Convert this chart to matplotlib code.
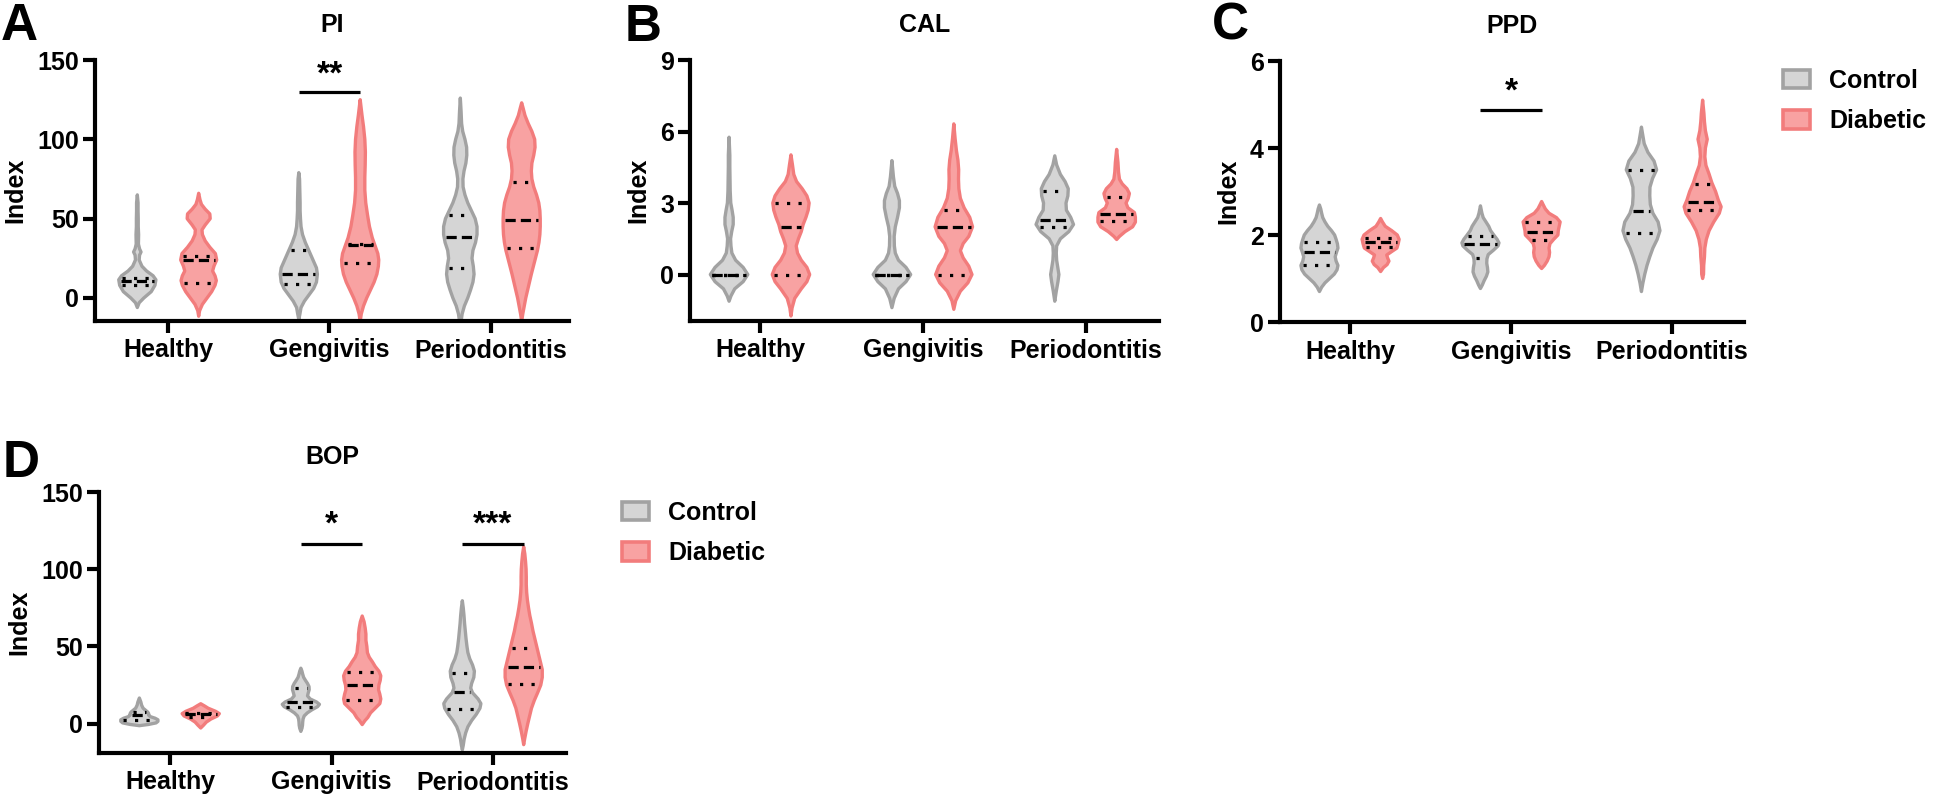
import numpy as np
import matplotlib
matplotlib.use("Agg")
import matplotlib.pyplot as plt
from matplotlib.patches import Patch

plt.rcParams["font.family"] = ["Liberation Sans", "DejaVu Sans"]
plt.rcParams["font.weight"] = "bold"

GROUPS = ["Healthy", "Gengivitis", "Periodontitis"]
SERIES = ["Control", "Diabetic"]

# ── violin outlines: (value, relative half-width) ───────────────────────────
# PI
PI_CTRL_HEALTHY = [(-6, 0), (-3, .1), (0, .35), (4, .75), (8, .95), (11.5, 1), (14, .85),
                   (17, .5), (20, .25), (24, .1), (27, .12), (29, .2), (31, .12), (34, .06),
                   (40, .07), (45, .05), (50, .05), (55, .04), (60, .04), (65, 0)]
PI_DIAB_HEALTHY = [(-11.5, 0), (-8, .05), (-4, .2), (0, .45), (4, .7), (8, .88), (11, .95),
                   (14, .88), (17, .75), (20, .82), (24, .97), (28, .9), (32, .6), (36, .35),
                   (40, .2), (43, .18), (46, .35), (50, .62), (53, .6), (56, .35), (59, .15),
                   (62, .07), (66, 0)]
PI_CTRL_GENG = [(-13.6, 0), (-10, .06), (-6, .12), (-2, .3), (2, .55), (6, .8), (10, .95),
                (15, 1), (19, .95), (23, .8), (27, .65), (31, .5), (35, .35), (40, .2),
                (45, .12), (50, .09), (55, .07), (60, .07), (65, .06), (70, .05), (75, .04),
                (79, 0)]
PI_DIAB_GENG = [(-14.7, 0), (-10, .06), (-5, .18), (0, .35), (5, .55), (10, .75), (15, .9),
                (20, .98), (24, 1), (28, .95), (33, .8), (38, .65), (45, .5), (52, .4),
                (60, .3), (68, .25), (76, .25), (84, .27), (92, .28), (100, .25), (108, .18),
                (115, .1), (120, .05), (125, 0)]
PI_CTRL_PERIO = [(-16, 0), (-14, .05), (-10, .1), (-5, .22), (0, .4), (5, .55), (10, .68),
                 (15, .74), (20, .7), (25, .63), (30, .68), (35, .82), (40, .9), (45, .9),
                 (50, .8), (55, .6), (60, .4), (65, .25), (70, .15), (75, .14), (80, .2),
                 (85, .3), (90, .35), (95, .34), (100, .25), (105, .13), (110, .07),
                 (118, .04), (126, 0)]
PI_DIAB_PERIO = [(-14.7, 0), (-10, .06), (-5, .14), (0, .22), (5, .32), (10, .42), (15, .52),
                 (20, .63), (25, .74), (30, .85), (35, .93), (40, .98), (45, 1), (50, 1),
                 (55, .98), (60, .92), (65, .8), (70, .65), (75, .55), (80, .52), (85, .55),
                 (90, .65), (95, .72), (100, .7), (105, .55), (110, .35), (115, .18),
                 (120, .07), (123, 0)]
# quartiles (Q1, median, Q3) per group
PI_CTRL_Q = [(8, 11, 12.5), (9, 15.3, 30), (19, 38.4, 52)]
PI_DIAB_Q = [(9.4, 23.7, 26.2), (22, 33.6, 34), (31.5, 49.3, 73.4)]

# CAL
CAL_CTRL_HEALTHY = [(-1.12, 0), (-.9, .1), (-.6, .3), (-.3, .75), (0, 1), (.3, .75), (.6, .35),
                    (.9, .15), (1.2, .1), (1.5, .08), (1.8, .14), (2.1, .22), (2.4, .22),
                    (2.7, .16), (3.0, .09), (3.5, .06), (4, .05), (4.5, .04), (5, .04),
                    (5.76, 0)]
CAL_DIAB_HEALTHY = [(-1.74, 0), (-1.4, .06), (-1, .2), (-.6, .55), (-.3, .85), (0, 1),
                    (.3, .85), (.6, .55), (.9, .35), (1.2, .28), (1.5, .4), (1.8, .55),
                    (2.1, .65), (2.4, .8), (2.7, .92), (3, .97), (3.3, .85), (3.6, .6),
                    (3.9, .3), (4.2, .15), (4.6, .08), (5.02, 0)]
CAL_CTRL_GENG = [(-1.39, 0), (-1, .12), (-.6, .35), (-.3, .75), (0, 1), (.3, .75), (.6, .35),
                 (.9, .18), (1.2, .13), (1.6, .12), (2, .18), (2.4, .3), (2.8, .4), (3.1, .4),
                 (3.4, .3), (3.7, .15), (4.1, .08), (4.78, 0)]
CAL_DIAB_GENG = [(-1.46, 0), (-1.1, .1), (-.7, .35), (-.35, .75), (0, .97), (.35, .8),
                 (.7, .5), (1, .35), (1.3, .5), (1.6, .8), (2, 1), (2.4, .85), (2.8, .55),
                 (3.2, .35), (3.6, .27), (4, .25), (4.4, .26), (4.8, .22), (5.2, .14),
                 (5.7, .07), (6.32, 0)]
CAL_CTRL_PERIO = [(-1.12, 0), (-.7, .08), (-.3, .17), (0, .22), (.3, .16), (.6, .1), (.9, .08),
                  (1.2, .1), (1.5, .3), (1.8, .75), (2.1, 1), (2.4, .85), (2.7, .62), (3, .6),
                  (3.3, .7), (3.6, .72), (3.9, .55), (4.2, .3), (4.6, .1), (4.98, 0)]
CAL_DIAB_PERIO = [(1.47, 0), (1.6, .15), (1.8, .45), (2, .85), (2.2, 1), (2.4, 1), (2.6, .95),
                  (2.8, .6), (3, .5), (3.2, .62), (3.4, .68), (3.6, .55), (3.8, .3), (4, .15),
                  (4.3, .1), (4.7, .07), (5.25, 0)]
CAL_CTRL_Q = [(0, 0, 0), (0, 0, 0), (2.0, 2.3, 3.5)]
CAL_DIAB_Q = [(0, 2, 3), (0, 2, 2.7), (2.24, 2.52, 3.24)]

# PPD
PPD_CTRL_HEALTHY = [(.7, 0), (.8, .12), (.9, .3), (1, .55), (1.1, .8), (1.2, .95), (1.3, 1),
                    (1.4, .9), (1.5, .85), (1.6, .92), (1.7, 1), (1.8, .97), (1.9, .9),
                    (2, .82), (2.1, .65), (2.2, .45), (2.3, .3), (2.4, .18), (2.5, .12),
                    (2.6, .07), (2.69, 0)]
PPD_DIAB_HEALTHY = [(1.16, 0), (1.25, .15), (1.32, .35), (1.4, .45), (1.47, .38), (1.54, .33),
                    (1.62, .6), (1.7, .88), (1.8, .95), (1.9, 1), (2, .9), (2.1, .6), (2.2, .25),
                    (2.3, .1), (2.38, 0)]
PPD_CTRL_GENG = [(.77, 0), (.85, .1), (.95, .2), (1.05, .32), (1.15, .4), (1.25, .38),
                 (1.35, .34), (1.45, .35), (1.55, .42), (1.65, .7), (1.75, .95), (1.82, 1),
                 (1.9, .9), (2, .72), (2.1, .55), (2.2, .45), (2.3, .3), (2.4, .15), (2.5, .08),
                 (2.67, 0)]
PPD_DIAB_GENG = [(1.23, 0), (1.3, .15), (1.4, .3), (1.5, .4), (1.6, .43), (1.7, .4), (1.8, .45),
                 (1.9, .65), (2, .88), (2.1, .9), (2.2, .95), (2.3, 1), (2.4, .8), (2.5, .4),
                 (2.6, .2), (2.7, .08), (2.77, 0)]
PPD_CTRL_PERIO = [(.7, 0), (.9, .08), (1.1, .18), (1.3, .3), (1.5, .45), (1.7, .62), (1.9, .85),
                  (2.1, 1), (2.3, .9), (2.5, .62), (2.7, .48), (2.9, .45), (3.1, .46),
                  (3.3, .6), (3.5, .82), (3.7, .68), (3.9, .35), (4.1, .15), (4.3, .07),
                  (4.48, 0)]
PPD_DIAB_PERIO = [(1, 0), (1.1, .05), (1.3, .06), (1.5, .1), (1.7, .12), (1.9, .2), (2.1, .35),
                  (2.3, .6), (2.5, .9), (2.65, 1), (2.8, .85), (3, .7), (3.2, .5), (3.4, .35),
                  (3.6, .18), (3.8, .12), (4, .15), (4.2, .25), (4.4, .15), (4.6, .1),
                  (4.8, .07), (5.1, 0)]
PPD_CTRL_Q = [(1.3, 1.6, 1.85), (1.47, 1.8, 1.98), (2.05, 2.55, 3.5)]
PPD_DIAB_Q = [(1.72, 1.85, 1.93), (1.88, 2.07, 2.3), (2.58, 2.77, 3.18)]

# BOP
BOP_CTRL_HEALTHY = [(-1.3, 0), (-.5, .5), (.5, .9), (1.5, 1), (2.5, 1), (3.5, .85), (4.5, .6),
                    (5.5, .5), (6.5, .5), (7.5, .45), (8.5, .35), (10, .2), (12, .12), (14, .08),
                    (16.6, 0)]
BOP_DIAB_HEALTHY = [(-2.8, 0), (-1, .15), (1, .3), (3, .55), (5, .9), (6.5, 1), (8, .8),
                    (10, .4), (11.5, .2), (12.9, 0)]
BOP_CTRL_GENG = [(-5, 0), (-3, .06), (-1, .09), (1, .1), (3, .12), (5, .18), (7, .35), (9, .6),
                 (11, .9), (12.5, 1), (14, .85), (16, .5), (18, .36), (20, .4), (22, .45),
                 (24, .44), (26, .36), (28, .25), (30, .15), (32, .1), (34, .06), (35.9, 0)]
BOP_DIAB_GENG = [(-.6, 0), (2, .15), (4, .3), (7, .45), (10, .7), (13, .95), (16, 1), (19, .95),
                 (22, .88), (25, .9), (28, .97), (31, 1), (34, .9), (37, .7), (40, .55),
                 (43, .38), (46, .28), (50, .25), (54, .2), (58, .2), (62, .16), (66, .1),
                 (69.7, 0)]
BOP_CTRL_PERIO = [(-17, 0), (-14, .05), (-10, .1), (-6, .18), (-2, .3), (2, .5), (6, .75),
                  (10, .95), (13, 1), (16, .85), (20, .55), (23, .45), (26, .5), (30, .62),
                  (34, .65), (38, .55), (42, .4), (46, .3), (50, .25), (55, .2), (60, .16),
                  (65, .12), (70, .09), (75, .05), (79.6, 0)]
BOP_DIAB_PERIO = [(-13.6, 0), (-10, .05), (-5, .13), (0, .22), (5, .32), (10, .42), (15, .57),
                  (20, .75), (25, .92), (30, 1), (35, 1), (40, .9), (45, .8), (50, .7),
                  (55, .6), (60, .5), (65, .42), (70, .33), (75, .26), (80, .2), (85, .16),
                  (90, .14), (95, .14), (100, .13), (105, .1), (110, .06), (114.5, 0)]
BOP_CTRL_Q = [(2.5, 5.5, 7.5), (11, 14, 23), (9.5, 20.4, 32.7)]
BOP_DIAB_Q = [(4, 6, 6.8), (15.5, 24.8, 33.4), (25.8, 37, 48.9)]

# significance bars: (group index, bar value, star value, label)
PI_SIG = [(1, 129.8, 140.5, "**")]
CAL_SIG = []
PPD_SIG = [(1, 4.87, 5.29, "*")]
BOP_SIG = [(1, 116.2, 128.5, "*"), (2, 116.2, 128.5, "***")]

# ── style ────────────────────────────────────────────────────────────────────
FACE = {"Control": "#d5d5d5", "Diabetic": "#f8a2a2"}
EDGE = {"Control": "#a2a2a2", "Diabetic": "#f27c7c"}
OFFSET = 0.19
HALF_W = 0.115
FS = 18
W, H = 1949, 800

fig = plt.figure(figsize=(W / 100, H / 100), dpi=100)


def px_axes(left, right, top, bottom):
    return fig.add_axes([left / W, 1 - bottom / H, (right - left) / W, (bottom - top) / H])


def draw_violin(ax, x0, profile, quart, series):
    ys = np.array([p[0] for p in profile], dtype=float)
    ws = np.array([p[1] for p in profile], dtype=float) * HALF_W
    ax.fill(np.r_[x0 + ws, (x0 - ws)[::-1]], np.r_[ys, ys[::-1]],
            facecolor=FACE[series], edgecolor=EDGE[series], linewidth=2.4,
            joinstyle="round", zorder=2)
    q1, med, q3 = quart
    for v, ls in ((q1, (0, (1, 2.6))), (q3, (0, (1, 2.6))), (med, (0, (3.2, 1.6)))):
        hw = np.interp(v, ys, ws) - 0.012
        if hw > 0:
            ax.plot([x0 - hw, x0 + hw], [v, v], color="black", lw=2.3, ls=ls,
                    solid_capstyle="butt", dash_capstyle="butt", zorder=3)


def panel(ax, title, ctrl, diab, ctrl_q, diab_q, sig, ylim, yticks, xlim):
    for i in range(3):
        draw_violin(ax, i - OFFSET, ctrl[i], ctrl_q[i], "Control")
        draw_violin(ax, i + OFFSET, diab[i], diab_q[i], "Diabetic")
    for gi, ybar, ystar, lab in sig:
        ax.plot([gi - OFFSET, gi + OFFSET], [ybar, ybar], color="black", lw=2.3,
                solid_capstyle="butt", zorder=4)
        ax.text(gi, ystar, lab, ha="center", va="center", fontsize=24,
                fontweight="bold", zorder=4)
    ax.set_xlim(*xlim)
    ax.set_ylim(*ylim)
    ax.set_yticks(yticks)
    ax.set_xticks(range(3))
    ax.set_xticklabels(GROUPS)
    for s in ("top", "right"):
        ax.spines[s].set_visible(False)
    for s in ("left", "bottom"):
        ax.spines[s].set_linewidth(3)
        ax.spines[s].set_capstyle("projecting")
    ax.tick_params(axis="both", width=3, length=8.6, labelsize=FS, pad=3)
    ax.tick_params(axis="x", pad=4)
    ax.set_ylabel("Index", fontsize=FS, fontweight="bold", labelpad=7)
    ax.set_title(title, fontsize=FS, fontweight="bold", pad=20)
    ax.patch.set_visible(False)


ax_a = px_axes(95, 569, 60, 321)
panel(ax_a, "PI",
      [PI_CTRL_HEALTHY, PI_CTRL_GENG, PI_CTRL_PERIO],
      [PI_DIAB_HEALTHY, PI_DIAB_GENG, PI_DIAB_PERIO],
      PI_CTRL_Q, PI_DIAB_Q, PI_SIG, (-14.5, 150), [0, 50, 100, 150], (-0.452, 2.483))

ax_b = px_axes(690, 1159, 60, 321)
panel(ax_b, "CAL",
      [CAL_CTRL_HEALTHY, CAL_CTRL_GENG, CAL_CTRL_PERIO],
      [CAL_DIAB_HEALTHY, CAL_DIAB_GENG, CAL_DIAB_PERIO],
      CAL_CTRL_Q, CAL_DIAB_Q, CAL_SIG, (-1.95, 9), [0, 3, 6, 9], (-0.43, 2.45))

ax_c = px_axes(1280, 1744, 61, 322)
panel(ax_c, "PPD",
      [PPD_CTRL_HEALTHY, PPD_CTRL_GENG, PPD_CTRL_PERIO],
      [PPD_DIAB_HEALTHY, PPD_DIAB_GENG, PPD_DIAB_PERIO],
      PPD_CTRL_Q, PPD_DIAB_Q, PPD_SIG, (0, 6), [0, 2, 4, 6], (-0.435, 2.447))

ax_d = px_axes(99, 566, 492, 753)
panel(ax_d, "BOP",
      [BOP_CTRL_HEALTHY, BOP_CTRL_GENG, BOP_CTRL_PERIO],
      [BOP_DIAB_HEALTHY, BOP_DIAB_GENG, BOP_DIAB_PERIO],
      BOP_CTRL_Q, BOP_DIAB_Q, BOP_SIG, (-19, 150), [0, 50, 100, 150], (-0.44, 2.452))

# panel letters
for letter, x, y in (("A", 1, 40), ("B", 625, 41), ("C", 1212, 39), ("D", 3, 477)):
    fig.text(x / W, 1 - y / H, letter, fontsize=37, fontweight="bold",
             ha="left", va="baseline")

# legends (next to C and D)
handles = [Patch(facecolor=FACE[s], edgecolor=EDGE[s], linewidth=2.6, label=s) for s in SERIES]
for ax, x, y in ((ax_c, 1783, 101), (ax_d, 622, 533)):
    ax.legend(handles=handles, loc="center left", bbox_to_anchor=(x / W, 1 - y / H),
              bbox_transform=fig.transFigure, frameon=False, fontsize=FS,
              handlelength=1.1, handleheight=0.75, handletextpad=0.75,
              labelspacing=0.65, borderpad=0, borderaxespad=0)

fig.savefig("out.png", dpi=100)
